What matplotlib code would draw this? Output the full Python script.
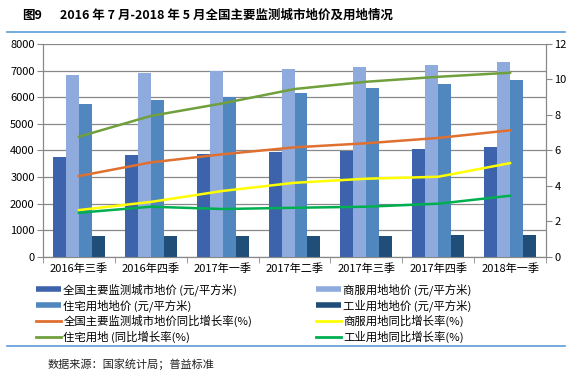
import numpy as np
import matplotlib
matplotlib.use("Agg")
import matplotlib.pyplot as plt
from matplotlib.lines import Line2D

plt.rcParams['font.family'] = ['Noto Sans CJK SC', 'DejaVu Sans']

quarters = ["2016年三季", "2016年四季", "2017年一季", "2017年二季",
            "2017年三季", "2017年四季", "2018年一季"]

# land prices (yuan / m2)
price_all = [3760, 3823, 3861, 3947, 3985, 4060, 4135]
price_comm = [6842, 6917, 6981, 7056, 7143, 7218, 7320]
price_resi = [5752, 5891, 6004, 6165, 6353, 6504, 6643]
price_ind = [778, 778, 778, 778, 778, 827, 827]

# year-on-year growth (%)
yoy_all = [4.55, 5.32, 5.78, 6.17, 6.40, 6.70, 7.13]
yoy_comm = [2.63, 3.09, 3.71, 4.17, 4.40, 4.51, 5.28]
yoy_resi = [6.77, 7.94, 8.65, 9.46, 9.87, 10.15, 10.38]
yoy_ind = [2.48, 2.82, 2.69, 2.76, 2.82, 2.99, 3.44]

bar_names = ["全国主要监测城市地价 (元/平方米)", "商服用地地价 (元/平方米)",
             "住宅用地地价 (元/平方米)", "工业用地地价 (元/平方米)"]
line_names = ["全国主要监测城市地价同比增长率(%)", "商服用地同比增长率(%)",
              "住宅用地 (同比增长率(%)", "工业用地同比增长率(%)"]

bar_colors = ["#3D63AC", "#8FAADC", "#4F87BE", "#1F4E79"]
line_colors = ["#E07030", "#FFFF00", "#70A03C", "#00B050"]

fig = plt.figure(figsize=(5.74, 3.76), dpi=100)
ax = fig.add_axes([43/574, 1-256.7/376, (546-43)/574, (256.7-44)/376])
ax2 = ax.twinx()

x = np.arange(len(quarters))
w = 0.18
for i, (vals, c) in enumerate(zip([price_all, price_comm, price_resi, price_ind], bar_colors)):
    ax.bar(x + (i - 1.5) * w, vals, w, color=c, zorder=3)

for vals, c in zip([yoy_all, yoy_comm, yoy_resi, yoy_ind], line_colors):
    ax2.plot(x, vals, color=c, lw=1.8, zorder=4)

ax.set_xlim(-0.5, len(quarters) - 0.5)
ax.set_ylim(0, 8000)
ax.set_yticks(range(0, 8001, 1000))
ax2.set_ylim(0, 12)
ax2.set_yticks(range(0, 13, 2))
ax.yaxis.grid(True, color="#888888", lw=0.9, zorder=0)
ax.set_axisbelow(True)

ax.set_xticks(x)
ax.set_xticklabels(quarters, fontsize=8)
ax.set_xticks(np.arange(-0.5, len(quarters)), minor=True)
ax.tick_params(axis="x", which="major", length=0, pad=5)
ax.tick_params(axis="x", which="minor", length=4, color="#888888")
ax.tick_params(axis="y", labelsize=8, length=4, color="#888888", pad=2)
ax2.tick_params(axis="y", labelsize=8, length=4, color="#888888", pad=2)

for a in (ax, ax2):
    a.spines["top"].set_visible(False)
    for s in ("left", "right", "bottom"):
        a.spines[s].set_color("#888888")

handles = [Line2D([], [], color=c, lw=4, solid_capstyle="butt") for c in bar_colors]
handles += [Line2D([], [], color=c, lw=2) for c in line_colors]
names = bar_names + line_names
order = [0, 2, 4, 6, 1, 3, 5, 7]
fig.legend([handles[i] for i in order], [names[i] for i in order],
           ncol=2, loc="upper left", bbox_to_anchor=(36/574, 1-283/376),
           frameon=False, fontsize=8.2, handlelength=2.2, handletextpad=0.2,
           columnspacing=5.6, labelspacing=0.3, borderaxespad=0, borderpad=0)

fig.text(22/574, 1-15/376, "图9", fontsize=9, fontweight="bold", va="center")
fig.text(60/574, 1-15/376, "2016 年 7 月-2018 年 5 月全国主要监测城市地价及用地情况",
         fontsize=9, fontweight="bold", va="center")
fig.add_artist(Line2D([7/574, 565/574], [1-32/376, 1-32/376], color="#5B9BD5", lw=1.2))
fig.add_artist(Line2D([7/574, 565/574], [1-346/376, 1-346/376], color="#5B9BD5", lw=1.2))
fig.text(48/574, 1-364/376, "数据来源：国家统计局；普益标准", fontsize=8, va="center", color="#222222")

fig.savefig("out.png", dpi=100)
